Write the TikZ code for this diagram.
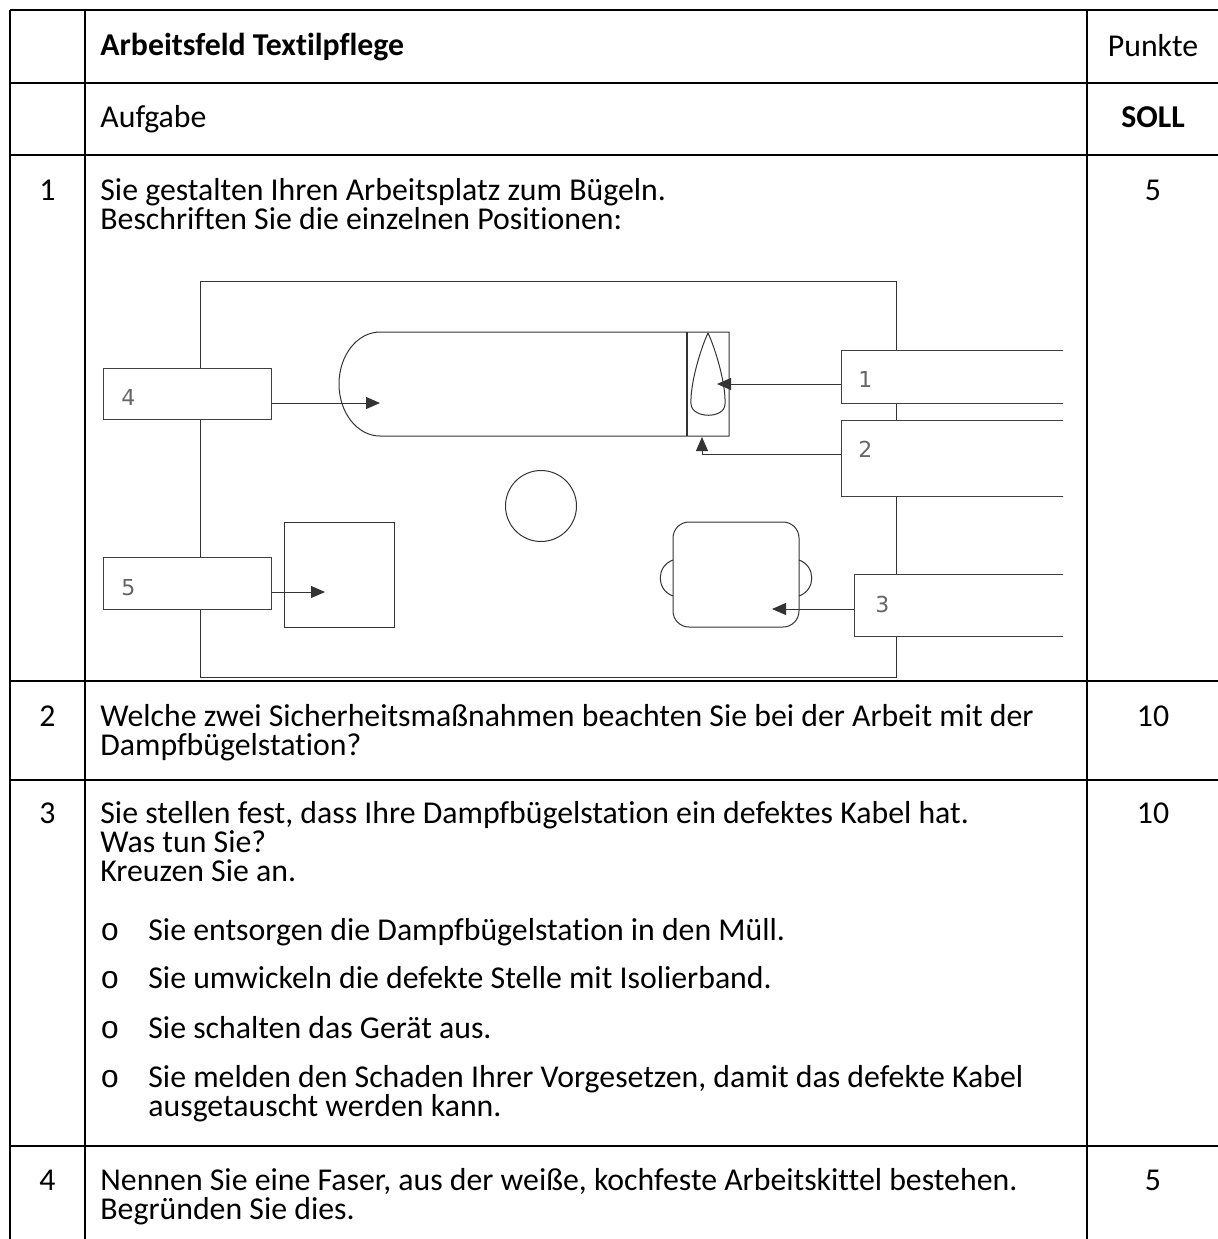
\documentclass[tikz,border=0pt]{standalone}
\usepackage{fontspec}
\setmainfont{Carlito}[Ligatures=NoCommon]
\newfontfamily\numfont{DejaVu Sans}
\newfontfamily\bulfont{Liberation Mono}
\usetikzlibrary{arrows.meta}

\tikzset{
	tabline/.style={line width=1pt, black},
	plan/.style={line width=0.5pt, black!80},
	pfeil/.style={plan, -{Triangle[length=7pt,width=6pt]}},
	lbl/.style={draw=black!75, fill=white, line width=0.5pt, inner sep=0pt},
	txt/.style={anchor=base west, inner sep=0pt, align=left, font=\fontsize{15.9}{14.6}\selectfont},
	mid/.style={anchor=base, inner sep=0pt, font=\fontsize{15.9}{14.6}\selectfont},
	num/.style={anchor=base west, inner sep=0pt, text=black!60, font=\numfont\fontsize{11}{13}\selectfont},
}

\begin{document}
\begin{tikzpicture}[x=0.5pt,y=-0.5pt]
	\useasboundingbox (0,0) rectangle (1218,1239);

	\foreach \y in {10,83,155,681,780,1146}
		\draw [tabline] (10,\y) -- (1218,\y);
	\foreach \x in {10,85,1087}
		\draw [tabline] (\x,10) -- (\x,1239);

	% multi-line texts sit on the baseline of their last line
	\node [txt] (HEAD) at (100,55) {\bfseries Arbeitsfeld Textilpflege};
	\node [mid] (PUNKTE) at (1153,56) {Punkte};
	\node [txt] (AUFGABE) at (100,127) {Aufgabe};
	\node [mid] (SOLL) at (1153,127) {\bfseries SOLL};

	\node [mid] (NR1) at (47.5,200) {1};
	\node [txt] (Q1) at (100,229.2) {Sie gestalten Ihren Arbeitsplatz zum Bügeln.\\Beschriften Sie die einzelnen Positionen:};
	\node [mid] (P1) at (1153,200) {5};

	\node [mid] (NR2) at (47.5,726) {2};
	\node [txt] (Q2) at (100,755.2) {Welche zwei Sicherheitsmaßnahmen beachten Sie bei der Arbeit mit der\\Dampfbügelstation?};
	\node [mid] (P2) at (1153,726) {10};

	\node [mid] (NR3) at (47.5,823) {3};
	\node [txt] (Q3) at (100,881.4) {Sie stellen fest, dass Ihre Dampfbügelstation ein defektes Kabel hat.\\Was tun Sie?\\Kreuzen Sie an.};
	\node [mid] (P3) at (1153,823) {10};
	\foreach \y/\antwort [count=\i] in {940/{Sie entsorgen die Dampfbügelstation in den Müll.},
		988/{Sie umwickeln die defekte Stelle mit Isolierband.},
		1038/{Sie schalten das Gerät aus.},
		1087/{Sie melden den Schaden Ihrer Vorgesetzen, damit das defekte Kabel}}
	{
		\node [txt, font=\bulfont\fontsize{15.9}{14.6}\selectfont] (BUL\i) at (100,\y) {o};
		\node [txt] (ANT\i) at (148,\y) {\antwort};
	}
	\node [txt] (ANT5) at (148,1116.2) {ausgetauscht werden kann.};

	\node [mid] (NR4) at (47.5,1190) {4};
	\node [txt] (Q4) at (100,1219.2) {Nennen Sie eine Faser, aus der weiße, kochfeste Arbeitskittel bestehen.\\Begründen Sie dies.};
	\node [mid] (P4) at (1153,1190) {5};

	\begin{scope}
		\clip (0,0) rectangle (1063,1239);
		\draw [plan] (200,281) rectangle (896,677);

		\draw [plan] (380,332) -- (729,332) -- (729,436) -- (380,436) arc [start angle=270, end angle=90, x radius=20.5pt, y radius=26pt];
		\draw [plan, line width=1.4pt] (687,332) -- (687,436);
		\draw [plan] (708,333) .. controls (700,350) and (690,385) .. (691,404) .. controls (692,419) and (725,419) .. (725,404) .. controls (726,385) and (716,350) .. (708,333);

		\draw [plan] (541,506) circle [radius=17.75pt];
		\draw [plan] (284,522) rectangle (394,627);
		\draw [plan, rounded corners=8pt] (673,522) rectangle (799,627);
		\draw [plan] (673,560) .. controls (656,566) and (656,590) .. (673,596);
		\draw [plan] (799,560) .. controls (816,566) and (816,590) .. (799,596);

		\node [lbl, minimum width=84pt, minimum height=25.5pt] (BOX4) at (187,393.5) {};
		\node [lbl, minimum width=84pt, minimum height=26pt] (BOX5) at (187,583) {};
		\node [lbl, minimum width=129.5pt, minimum height=26.5pt] (BOX1) at (970.5,376.5) {};
		\node [lbl, minimum width=129.5pt, minimum height=38pt] (BOX2) at (970.5,458) {};
		\node [lbl, minimum width=123pt, minimum height=31pt] (BOX3) at (977,605) {};

		\node [num] (L1) at (858,387) {1};
		\node [num] (L2) at (858,457) {2};
		\node [num] (L3) at (875,612) {3};
		\node [num] (L4) at (121,405) {4};
		\node [num] (L5) at (121,595) {5};

		\coordinate (IRON) at (717,384);
		\coordinate (REST) at (702,437);
		\coordinate (BASKET) at (772,609);
		\coordinate (BOARD) at (380,403);
		\coordinate (SHELF) at (325,592);

		\draw [pfeil] (BOX1.west |- IRON) -- (IRON);
		\draw [pfeil] ([yshift=2pt]BOX2.west) -| (REST);
		\draw [pfeil] (BOX3.west |- BASKET) -- (BASKET);
		\draw [pfeil] (BOX4.east |- BOARD) -- (BOARD);
		\draw [pfeil] (BOX5.east |- SHELF) -- (SHELF);
	\end{scope}
\end{tikzpicture}
\end{document}
